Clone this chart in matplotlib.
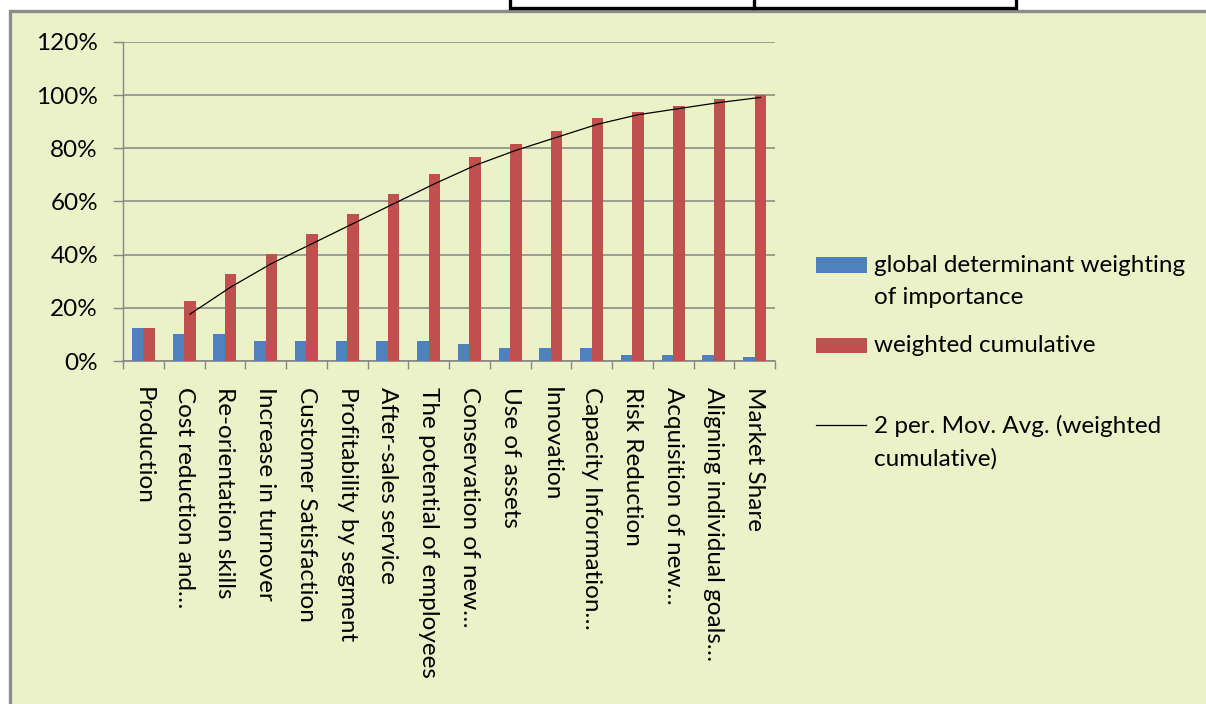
import matplotlib
matplotlib.use("Agg")
import matplotlib.pyplot as plt
import numpy as np
from matplotlib.patches import Rectangle
from matplotlib.lines import Line2D

# ---- data ----
categories = [
    "Production",
    "Cost reduction and\u2026",
    "Re-orientation skills",
    "Increase in turnover",
    "Customer Satisfaction",
    "Profitability by segment",
    "After-sales service",
    "The potential of employees",
    "Conservation of new\u2026",
    "Use of assets",
    "Innovation",
    "Capacity Information\u2026",
    "Risk Reduction",
    "Acquisition of new\u2026",
    "Aligning individual goals\u2026",
    "Market Share",
]
weighting = [0.125, 0.102, 0.102, 0.075, 0.075, 0.075, 0.075, 0.075,
             0.064, 0.049, 0.049, 0.049, 0.023, 0.023, 0.023, 0.015]
cumulative = [0.125, 0.227, 0.329, 0.404, 0.479, 0.554, 0.629, 0.704,
              0.768, 0.817, 0.866, 0.915, 0.938, 0.961, 0.984, 0.999]
y_ticks = [0.0, 0.2, 0.4, 0.6, 0.8, 1.0, 1.2]
y_tick_labels = ["0%", "20%", "40%", "60%", "80%", "100%", "120%"]
series_names = ["global determinant weighting\nof importance",
                "weighted cumulative",
                "2 per. Mov. Avg. (weighted\ncumulative)"]

# ---- style ----
plt.rcParams['font.family'] = ['Lato', 'DejaVu Sans']
BLUE = '#4F81BD'
RED = '#C0504D'
GRID = '#868686'
BG = '#EBF2C7'
FS = 17.5

W, H = 1206, 704
fig = plt.figure(figsize=(W / 100, H / 100), dpi=100)
fig.patch.set_facecolor('white')

def fx(px):
    return px / W

def fy(py):
    return 1 - py / H

# chart area with grey frame (left and top edges visible)
fig.add_artist(Rectangle((fx(9.5), -0.5), 2.0, fy(11) + 0.5,
                         transform=fig.transFigure, facecolor=BG,
                         edgecolor='#8C8C8C', linewidth=2.4, zorder=-2))
# small box along the top edge
fig.add_artist(Rectangle((fx(510), fy(8)), fx(1016) - fx(510), 0.05,
                         transform=fig.transFigure, facecolor='white',
                         edgecolor='black', linewidth=2.4, zorder=-1))
fig.add_artist(Line2D([fx(754), fx(754)], [fy(8), 1.01],
                      transform=fig.transFigure, color='black', lw=2.4, zorder=-1))

ax = fig.add_axes([fx(123), fy(361), fx(775) - fx(123), fy(42) - fy(361)])
ax.set_facecolor('none')

idx = np.arange(len(categories))
bw = 0.285
ax.bar(idx - bw / 2, weighting, bw, color=BLUE, zorder=3)
ax.bar(idx + bw / 2, cumulative, bw, color=RED, zorder=3)

# two-period moving average of the cumulative series
cum = np.array(cumulative)
mov_avg = (cum[1:] + cum[:-1]) / 2
ax.plot(idx[1:] + bw / 2, mov_avg, color='black', lw=0.9, zorder=4)

ax.set_xlim(-0.5, len(categories) - 0.5)
ax.set_ylim(0, 1.2)

ax.set_yticks(y_ticks)
ax.set_yticklabels(y_tick_labels, fontsize=FS)
ax.tick_params(axis='y', length=7, width=1, color=GRID, pad=11)
ax.yaxis.grid(True, color=GRID, lw=1.1, zorder=0)
ax.set_axisbelow(True)

ax.set_xticks(idx)
ax.set_xticklabels(categories, rotation=-90, ha='center', va='top', fontsize=FS,
                   rotation_mode='default')
ax.set_xticks(np.arange(-0.5, len(categories), 1), minor=True)
ax.tick_params(axis='x', which='major', length=0, pad=19)
ax.tick_params(axis='x', which='minor', length=6, width=1, color=GRID)

for s in ('top', 'right'):
    ax.spines[s].set_visible(False)
ax.spines['left'].set_color(GRID)
ax.spines['left'].set_linewidth(1)
ax.spines['bottom'].set_color(GRID)
ax.spines['bottom'].set_linewidth(1.2)

# legend
fig.add_artist(Rectangle((fx(816), fy(273)), fx(867) - fx(816), fy(257) - fy(273),
                         transform=fig.transFigure, facecolor=BLUE, edgecolor='none'))
fig.add_artist(Rectangle((fx(816), fy(353)), fx(867) - fx(816), fy(338) - fy(353),
                         transform=fig.transFigure, facecolor=RED, edgecolor='none'))
fig.add_artist(Line2D([fx(816), fx(866)], [fy(425), fy(425)],
                      transform=fig.transFigure, color='black', lw=0.9))
fig.text(fx(874), fy(255), series_names[0], fontsize=FS, va='top',
         linespacing=1.62, transform=fig.transFigure)
fig.text(fx(874), fy(346), series_names[1], fontsize=FS, va='center',
         transform=fig.transFigure)
fig.text(fx(874), fy(415), series_names[2], fontsize=FS, va='top',
         linespacing=1.62, transform=fig.transFigure)

fig.savefig('out.png', dpi=100, facecolor='white')
